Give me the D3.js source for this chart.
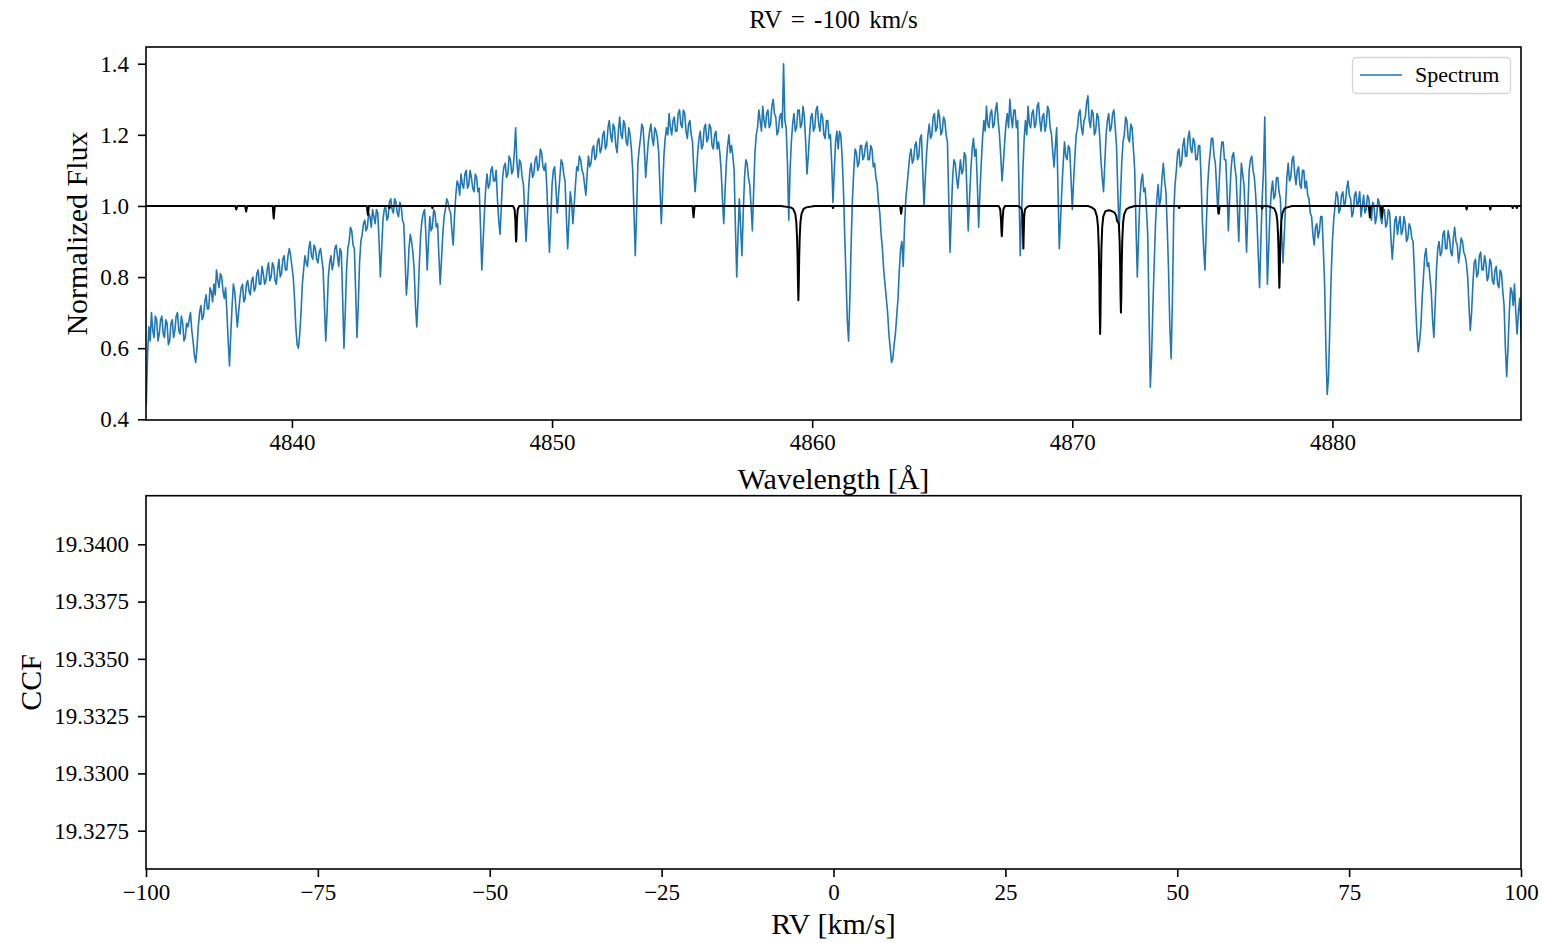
<!DOCTYPE html>
<html>
<head>
<meta charset="utf-8">
<script src="https://cdn.jsdelivr.net/npm/d3@7"></script>
<style>
  body { margin: 0; background: #fff; }
  svg { display: block; }
  text { font-family: "Liberation Serif", "Times New Roman", serif; fill: #000; }
</style>
</head>
<body>
<svg id="chart" width="1542" height="943"></svg>
<script>
// ---- data ----------------------------------------------------------------
const titleText = "RV = -100 km/s";

// Observed spectrum on a uniform wavelength grid (Å), normalized flux.
// One row per Ångström (first row starts at 4834.4).
const specStart = 4834.4;
const specStep = 0.05;
const specFlux = [
  0.44, 0.58, 0.66, 0.62, 0.70, 0.65, 0.63, 0.69, 0.68, 0.62, 0.64, 0.68,
  0.69, 0.64, 0.63, 0.68, 0.67, 0.61, 0.62, 0.67, 0.68, 0.63, 0.65, 0.69, 0.70, 0.65, 0.64, 0.69, 0.67, 0.62, 0.63, 0.67,
  0.66, 0.68, 0.70, 0.65, 0.62, 0.58, 0.56, 0.60, 0.66, 0.70, 0.72, 0.68, 0.69, 0.73, 0.75, 0.71, 0.71, 0.77, 0.76, 0.73,
  0.78, 0.75, 0.82, 0.79, 0.77, 0.81, 0.80, 0.76, 0.74, 0.77, 0.70, 0.62, 0.55, 0.64, 0.72, 0.78, 0.76, 0.71, 0.66, 0.70,
  0.74, 0.77, 0.78, 0.73, 0.74, 0.78, 0.79, 0.76, 0.75, 0.79, 0.80, 0.76, 0.77, 0.81, 0.82, 0.78, 0.78, 0.83, 0.81, 0.78,
  0.79, 0.82, 0.84, 0.79, 0.80, 0.84, 0.83, 0.79, 0.78, 0.82, 0.85, 0.80, 0.81, 0.85, 0.86, 0.82, 0.82, 0.86, 0.88, 0.86,
  0.83, 0.80, 0.74, 0.66, 0.61, 0.60, 0.64, 0.70, 0.78, 0.82, 0.86, 0.84, 0.83, 0.88, 0.90, 0.86, 0.85, 0.89, 0.88, 0.85,
  0.84, 0.87, 0.88, 0.85, 0.82, 0.72, 0.62, 0.70, 0.80, 0.84, 0.86, 0.82, 0.84, 0.88, 0.89, 0.86, 0.83, 0.88, 0.87, 0.74,
  0.60, 0.70, 0.82, 0.88, 0.90, 0.94, 0.93, 0.89, 0.88, 0.76, 0.63, 0.72, 0.84, 0.90, 0.92, 0.95, 0.96, 0.93, 0.94, 0.98,
  0.97, 0.94, 0.99, 0.97, 0.95, 0.99, 0.98, 0.90, 0.80, 0.88, 0.96, 0.99, 1.00, 0.96, 0.97, 1.01, 1.02, 0.99, 0.98, 1.02,
  1.01, 0.98, 0.97, 1.01, 1.00, 0.96, 0.95, 0.85, 0.75, 0.80, 0.88, 0.92, 0.90, 0.87, 0.82, 0.72, 0.66, 0.74, 0.84, 0.92,
  0.96, 0.98, 0.99, 0.92, 0.82, 0.90, 0.97, 0.93, 0.94, 0.99, 0.98, 0.94, 0.95, 0.86, 0.78, 0.85, 0.92, 0.97, 0.99, 1.02,
  1.01, 0.99, 0.98, 0.93, 0.89, 0.97, 1.03, 1.07, 1.06, 1.03, 1.09, 1.06, 1.05, 1.09, 1.10, 1.05, 1.06, 1.10, 1.08, 1.05,
  1.04, 1.09, 1.08, 1.04, 1.05, 0.94, 0.82, 0.90, 0.98, 1.05, 1.09, 1.05, 1.06, 1.10, 1.11, 1.07, 1.07, 1.10, 1.02, 0.96,
  0.92, 1.00, 1.08, 1.11, 1.12, 1.08, 1.09, 1.14, 1.13, 1.09, 1.10, 1.15, 1.22, 1.12, 1.08, 1.13, 1.12, 1.08, 1.06, 0.98,
  0.90, 0.97, 1.05, 1.10, 1.12, 1.08, 1.09, 1.13, 1.14, 1.10, 1.11, 1.16, 1.15, 1.11, 1.10, 1.12, 1.05, 0.96, 0.87, 0.96,
  1.06, 1.10, 1.11, 1.05, 0.98, 1.03, 1.08, 1.13, 1.12, 1.09, 1.07, 0.97, 0.88, 0.96, 1.04, 1.01, 0.95, 1.00, 1.06, 1.11,
  1.10, 1.14, 1.13, 1.10, 1.09, 1.06, 1.03, 1.09, 1.14, 1.11, 1.12, 1.16, 1.17, 1.13, 1.14, 1.18, 1.19, 1.15, 1.16, 1.20,
  1.21, 1.16, 1.17, 1.22, 1.24, 1.20, 1.18, 1.23, 1.22, 1.17, 1.15, 1.21, 1.25, 1.20, 1.19, 1.24, 1.23, 1.18, 1.17, 1.22,
  1.20, 1.16, 1.10, 0.98, 0.86, 0.98, 1.12, 1.16, 1.19, 1.23, 1.22, 1.16, 1.08, 1.13, 1.18, 1.21, 1.23, 1.19, 1.17, 1.22,
  1.21, 1.19, 1.15, 1.05, 0.95, 1.04, 1.14, 1.19, 1.22, 1.20, 1.26, 1.22, 1.20, 1.24, 1.25, 1.21, 1.21, 1.26, 1.27, 1.23,
  1.22, 1.27, 1.26, 1.21, 1.19, 1.23, 1.24, 1.20, 1.18, 1.10, 1.04, 1.09, 1.15, 1.19, 1.21, 1.16, 1.17, 1.22, 1.23, 1.18,
  1.19, 1.23, 1.22, 1.17, 1.16, 1.20, 1.21, 1.16, 1.18, 1.15, 1.10, 1.02, 0.95, 1.04, 1.12, 1.17, 1.20, 1.15, 1.17, 1.14,
  1.10, 0.94, 0.80, 0.92, 1.02, 0.94, 0.86, 0.98, 1.08, 1.13, 1.12, 1.08, 1.06, 1.00, 0.93, 1.04, 1.15, 1.20, 1.22, 1.27,
  1.24, 1.21, 1.28, 1.24, 1.22, 1.26, 1.27, 1.22, 1.23, 1.28, 1.30, 1.26, 1.25, 1.20, 1.21, 1.25, 1.26, 1.22, 1.40, 1.24,
  1.22, 1.12, 0.96, 1.10, 1.18, 1.23, 1.26, 1.21, 1.22, 1.27, 1.27, 1.22, 1.23, 1.28, 1.25, 1.18, 1.09, 1.14, 1.20, 1.25,
  1.26, 1.21, 1.22, 1.27, 1.28, 1.23, 1.21, 1.26, 1.25, 1.20, 1.19, 1.24, 1.24, 1.19, 1.20, 1.12, 1.01, 1.10, 1.18, 1.21,
  1.16, 1.21, 1.20, 1.14, 1.05, 0.92, 0.80, 0.68, 0.62, 0.74, 0.90, 1.02, 1.10, 1.16, 1.15, 1.11, 1.12, 1.17, 1.17, 1.13,
  1.14, 1.17, 1.18, 1.13, 1.13, 1.17, 1.16, 1.11, 1.12, 1.08, 1.06, 1.01, 0.98, 0.92, 0.88, 0.82, 0.78, 0.74, 0.70, 0.64,
  0.60, 0.56, 0.57, 0.61, 0.64, 0.69, 0.74, 0.82, 0.88, 0.90, 0.83, 0.94, 1.02, 1.06, 1.10, 1.14, 1.16, 1.12, 1.13, 1.17,
  1.18, 1.13, 1.14, 1.19, 1.20, 1.10, 1.00, 1.08, 1.15, 1.20, 1.23, 1.19, 1.20, 1.25, 1.26, 1.21, 1.22, 1.27, 1.25, 1.20,
  1.21, 1.25, 1.24, 1.20, 1.18, 1.02, 0.87, 0.98, 1.08, 1.13, 1.12, 1.08, 1.05, 1.09, 1.13, 1.09, 1.10, 1.15, 1.14, 1.04,
  0.93, 1.02, 1.10, 1.16, 1.19, 1.14, 1.16, 1.06, 0.94, 1.04, 1.12, 1.19, 1.24, 1.21, 1.28, 1.23, 1.22, 1.26, 1.27, 1.22,
  1.23, 1.27, 1.29, 1.24, 1.20, 1.14, 1.07, 1.12, 1.18, 1.23, 1.26, 1.22, 1.30, 1.25, 1.22, 1.27, 1.27, 1.22, 1.24, 1.05,
  0.86, 0.98, 1.10, 1.19, 1.24, 1.20, 1.28, 1.23, 1.22, 1.26, 1.27, 1.22, 1.23, 1.28, 1.29, 1.24, 1.21, 1.25, 1.26, 1.21,
  1.23, 1.28, 1.27, 1.22, 1.20, 1.15, 1.11, 1.17, 1.22, 1.05, 0.88, 0.96, 1.05, 1.12, 1.18, 1.14, 1.13, 1.17, 1.16, 1.08,
  0.99, 1.07, 1.14, 1.20, 1.22, 1.26, 1.27, 1.22, 1.20, 1.24, 1.25, 1.29, 1.31, 1.24, 1.22, 1.27, 1.26, 1.20, 1.21, 1.26,
  1.25, 1.20, 1.13, 1.08, 1.04, 1.12, 1.20, 1.24, 1.26, 1.21, 1.22, 1.26, 1.27, 1.22, 1.17, 1.04, 0.93, 1.02, 1.12, 1.18,
  1.20, 1.25, 1.24, 1.19, 1.18, 1.23, 1.22, 1.16, 1.10, 0.94, 0.80, 0.92, 1.02, 1.07, 1.09, 1.04, 1.05, 0.99, 0.92, 0.70,
  0.49, 0.58, 0.72, 0.84, 0.95, 1.02, 1.06, 1.00, 1.02, 1.08, 1.12, 1.07, 1.04, 0.94, 0.82, 0.66, 0.57, 0.74, 0.98, 1.06,
  1.10, 1.15, 1.16, 1.11, 1.12, 1.17, 1.19, 1.14, 1.14, 1.19, 1.21, 1.16, 1.15, 1.19, 1.18, 1.13, 1.13, 1.17, 1.17, 1.08,
  0.96, 0.88, 0.82, 0.94, 1.05, 1.11, 1.15, 1.19, 1.19, 1.14, 1.12, 1.05, 0.98, 1.07, 1.14, 1.18, 1.18, 1.13, 1.13, 1.04,
  0.93, 1.02, 1.10, 1.14, 1.15, 1.11, 1.08, 0.99, 0.90, 1.02, 1.12, 1.09, 1.06, 0.97, 0.87, 0.99, 1.10, 1.13, 1.14, 1.10,
  1.08, 1.03, 0.96, 0.86, 0.77, 0.90, 1.02, 1.10, 1.25, 1.00, 0.78, 0.88, 0.98, 1.04, 1.07, 1.02, 1.03, 1.08, 1.08, 1.04,
  1.02, 0.92, 0.84, 0.92, 1.00, 1.08, 1.12, 1.07, 1.08, 1.13, 1.14, 1.09, 1.06, 1.10, 1.11, 1.06, 1.05, 1.10, 1.10, 1.05,
  1.07, 1.03, 1.02, 0.98, 0.97, 0.92, 0.89, 0.94, 0.95, 0.91, 0.93, 0.97, 0.97, 0.88, 0.78, 0.60, 0.47, 0.52, 0.66, 0.80,
  0.90, 0.96, 1.00, 1.04, 1.03, 0.98, 0.99, 1.03, 1.04, 1.00, 1.01, 1.05, 1.07, 1.03, 1.02, 0.97, 0.98, 1.03, 1.04, 1.00,
  1.01, 1.04, 0.97, 1.00, 1.03, 0.98, 0.99, 1.03, 1.02, 0.98, 0.96, 1.01, 1.00, 0.95, 0.97, 1.02, 1.01, 0.97, 0.95, 0.99,
  0.99, 0.94, 0.95, 0.99, 0.98, 0.91, 0.85, 0.90, 0.96, 0.97, 0.92, 0.95, 0.97, 0.92, 0.93, 0.97, 0.95, 0.90, 0.91, 0.95,
  0.94, 0.91, 0.90, 0.82, 0.72, 0.64, 0.59, 0.62, 0.66, 0.74, 0.80, 0.86, 0.88, 0.83, 0.84, 0.80, 0.76, 0.68, 0.63, 0.72,
  0.82, 0.88, 0.90, 0.86, 0.87, 0.92, 0.93, 0.88, 0.88, 0.93, 0.91, 0.87, 0.86, 0.91, 0.94, 0.90, 0.89, 0.84, 0.87, 0.91,
  0.90, 0.87, 0.86, 0.84, 0.80, 0.72, 0.65, 0.70, 0.78, 0.84, 0.85, 0.80, 0.81, 0.86, 0.87, 0.82, 0.82, 0.86, 0.84, 0.79,
  0.80, 0.85, 0.84, 0.79, 0.78, 0.82, 0.83, 0.78, 0.77, 0.82, 0.81, 0.76, 0.72, 0.60, 0.52, 0.60, 0.70, 0.77, 0.76, 0.72,
  0.78, 0.70, 0.64, 0.70, 0.74, 0.66, 0.56, 0.62
];

// Template line profile: [wavelength (Å), flux]
const template = [
  [4834.39, 1.0],
  [4837.82, 1.0], [4837.86, 0.99], [4837.90, 1.0],
  [4838.20, 1.0], [4838.24, 0.984], [4838.28, 1.0],
  [4839.26, 1.0], [4839.30, 0.965], [4839.34, 1.0],
  [4842.88, 1.0], [4842.92, 0.975], [4842.96, 1.0],
  [4843.72, 1.0], [4843.75, 0.994], [4843.78, 1.0],
  [4845.37, 1.0], [4845.40, 0.994], [4845.43, 1.0],
  [4848.50, 1.0], [4848.56, 0.99], [4848.59, 0.96], [4848.61, 0.91], [4848.62, 0.90],
  [4848.63, 0.91], [4848.65, 0.96], [4848.68, 0.99], [4848.74, 1.0],
  [4855.40, 1.0], [4855.44, 0.968], [4855.48, 1.0],
  [4858.80, 1.0], [4859.17, 0.996], [4859.27, 0.992], [4859.35, 0.978], [4859.39, 0.955],
  [4859.42, 0.91], [4859.44, 0.85], [4859.455, 0.78], [4859.47, 0.735], [4859.485, 0.78],
  [4859.50, 0.85], [4859.52, 0.91], [4859.55, 0.955], [4859.59, 0.978], [4859.67, 0.992],
  [4859.77, 0.996], [4860.10, 1.0],
  [4860.77, 1.0], [4860.80, 0.994], [4860.83, 1.0],
  [4863.38, 1.0], [4863.42, 0.978], [4863.46, 1.0],
  [4867.17, 1.0], [4867.23, 0.99], [4867.26, 0.96], [4867.28, 0.925], [4867.29, 0.915],
  [4867.30, 0.925], [4867.32, 0.96], [4867.35, 0.99], [4867.41, 1.0],
  [4867.90, 1.0], [4868.00, 0.996], [4868.06, 0.99], [4868.09, 0.97], [4868.105, 0.93],
  [4868.12, 0.88], [4868.135, 0.93], [4868.15, 0.97], [4868.18, 0.99], [4868.24, 0.996],
  [4868.34, 1.0],
  [4870.60, 1.0], [4870.77, 0.995], [4870.87, 0.989], [4870.95, 0.97], [4870.99, 0.94],
  [4871.02, 0.88], [4871.04, 0.80], [4871.055, 0.70], [4871.07, 0.64], [4871.085, 0.70],
  [4871.10, 0.80], [4871.12, 0.88], [4871.15, 0.94], [4871.19, 0.97], [4871.27, 0.985],
  [4871.40, 0.988], [4871.47, 0.987], [4871.62, 0.982], [4871.69, 0.972], [4871.72, 0.958],
  [4871.75, 0.955], [4871.79, 0.95], [4871.82, 0.90], [4871.84, 0.83], [4871.855, 0.745],
  [4871.87, 0.70], [4871.885, 0.745], [4871.90, 0.83], [4871.92, 0.90], [4871.95, 0.95],
  [4871.99, 0.975], [4872.07, 0.99], [4872.17, 0.995], [4872.40, 1.0],
  [4874.08, 1.0], [4874.11, 0.994], [4874.14, 1.0],
  [4875.59, 1.0], [4875.63, 0.978], [4875.67, 1.0],
  [4877.27, 1.0], [4877.30, 0.993], [4877.33, 1.0],
  [4877.50, 1.0], [4877.66, 0.996], [4877.76, 0.993], [4877.84, 0.98], [4877.88, 0.96],
  [4877.91, 0.92], [4877.93, 0.87], [4877.945, 0.81], [4877.96, 0.77], [4877.975, 0.81],
  [4877.99, 0.87], [4878.01, 0.92], [4878.04, 0.96], [4878.08, 0.98], [4878.16, 0.993],
  [4878.26, 0.996], [4878.45, 1.0],
  [4881.40, 1.0], [4881.44, 0.968], [4881.48, 1.0],
  [4881.86, 1.0], [4881.90, 0.968], [4881.94, 1.0],
  [4885.13, 1.0], [4885.16, 0.99], [4885.19, 1.0],
  [4886.04, 1.0], [4886.07, 0.99], [4886.10, 1.0],
  [4886.90, 1.0], [4886.93, 0.994], [4886.96, 1.0],
  [4887.06, 1.0], [4887.09, 0.994], [4887.12, 1.0],
  [4887.25, 1.0]
];

const waveDomain = [4834.39, 4887.25];
const fluxDomain = [0.398, 1.447];
const waveTicks = [4840, 4850, 4860, 4870, 4880];
const fluxTicks = [0.4, 0.6, 0.8, 1.0, 1.2, 1.4];

const rvDomain = [-100, 100];
const ccfDomain = [19.325828, 19.342121];
const rvTicks = [-100, -75, -50, -25, 0, 25, 50, 75, 100];
const ccfTicks = [19.3275, 19.3300, 19.3325, 19.3350, 19.3375, 19.3400];

// ---- layout --------------------------------------------------------------
const svg = d3.select("#chart");
const L = 146, R = 1521;
const top1 = 47, bot1 = 420;
const top2 = 495.7, bot2 = 869;
const tickFont = 23, labelFont = 30;
const blue = "#1f77b4";

const x1 = d3.scaleLinear().domain(waveDomain).range([L, R]);
const y1 = d3.scaleLinear().domain(fluxDomain).range([bot1, top1]);
const x2 = d3.scaleLinear().domain(rvDomain).range([L, R]);
const y2 = d3.scaleLinear().domain(ccfDomain).range([bot2, top2]);

const minus = s => s.replace("-", "\u2212");

function styleAxis(g) {
  g.select(".domain").remove();
  g.selectAll(".tick line").attr("stroke", "#000").attr("stroke-width", 1.6);
  g.selectAll(".tick text")
    .style("font-family", '"Liberation Serif", "Times New Roman", serif')
    .style("font-size", tickFont + "px")
    .attr("fill", "#000");
}

// ---- top panel: spectrum -------------------------------------------------
svg.append("clipPath").attr("id", "clip1")
  .append("rect").attr("x", L).attr("y", top1).attr("width", R - L).attr("height", bot1 - top1);

const spec = specFlux.map((f, i) => [specStart + i * specStep, f]);
const line1 = d3.line().x(d => x1(d[0])).y(d => y1(d[1]));

const plot1 = svg.append("g").attr("clip-path", "url(#clip1)");
plot1.append("path").datum(spec)
  .attr("d", line1).attr("fill", "none")
  .attr("stroke", blue).attr("stroke-width", 1.6).attr("stroke-linejoin", "round");
plot1.append("path").datum(template)
  .attr("d", line1).attr("fill", "none")
  .attr("stroke", "#000").attr("stroke-width", 2).attr("stroke-linejoin", "round");

svg.append("g").attr("transform", `translate(0,${bot1})`)
  .call(d3.axisBottom(x1).tickValues(waveTicks).tickSize(8).tickPadding(6).tickFormat(d3.format("d")))
  .call(styleAxis);
svg.append("g").attr("transform", `translate(${L},0)`)
  .call(d3.axisLeft(y1).tickValues(fluxTicks).tickSize(8).tickPadding(9).tickFormat(d3.format(".1f")))
  .call(styleAxis);

svg.append("rect").attr("x", L).attr("y", top1).attr("width", R - L).attr("height", bot1 - top1)
  .attr("fill", "none").attr("stroke", "#000").attr("stroke-width", 1.6);

// legend
const leg = svg.append("g");
leg.append("rect").attr("x", 1352.5).attr("y", 57.5).attr("width", 158).attr("height", 36)
  .attr("rx", 4).attr("fill", "#fff").attr("fill-opacity", 0.8)
  .attr("stroke", "#d6d6d6").attr("stroke-width", 1.3);
leg.append("line").attr("x1", 1360).attr("x2", 1402).attr("y1", 75).attr("y2", 75)
  .attr("stroke", blue).attr("stroke-width", 1.4);
leg.append("text").attr("x", 1415).attr("y", 82).style("font-size", "22px").text("Spectrum");

// labels
svg.append("text").attr("x", (L + R) / 2).attr("y", 28).attr("text-anchor", "middle")
  .style("font-size", "25px").style("word-spacing", "3px").text(titleText);
svg.append("text").attr("x", (L + R) / 2).attr("y", 489).attr("text-anchor", "middle")
  .style("font-size", labelFont + "px").text("Wavelength [Å]");
svg.append("text").attr("transform", `translate(87,${(top1 + bot1) / 2}) rotate(-90)`)
  .attr("text-anchor", "middle").style("font-size", labelFont + "px").text("Normalized Flux");

// ---- bottom panel: CCF ---------------------------------------------------
svg.append("g").attr("transform", `translate(0,${bot2})`)
  .call(d3.axisBottom(x2).tickValues(rvTicks).tickSize(8).tickPadding(7).tickFormat(d => minus(d3.format("d")(d))))
  .call(styleAxis);
svg.append("g").attr("transform", `translate(${L},0)`)
  .call(d3.axisLeft(y2).tickValues(ccfTicks).tickSize(8).tickPadding(9).tickFormat(d3.format(".4f")))
  .call(styleAxis);

svg.append("rect").attr("x", L).attr("y", top2).attr("width", R - L).attr("height", bot2 - top2)
  .attr("fill", "none").attr("stroke", "#000").attr("stroke-width", 1.6);

svg.append("text").attr("x", (L + R) / 2).attr("y", 934).attr("text-anchor", "middle")
  .style("font-size", labelFont + "px").text("RV [km/s]");
svg.append("text").attr("transform", `translate(41,${(top2 + bot2) / 2}) rotate(-90)`)
  .attr("text-anchor", "middle").style("font-size", labelFont + "px").text("CCF");
</script>
</body>
</html>
